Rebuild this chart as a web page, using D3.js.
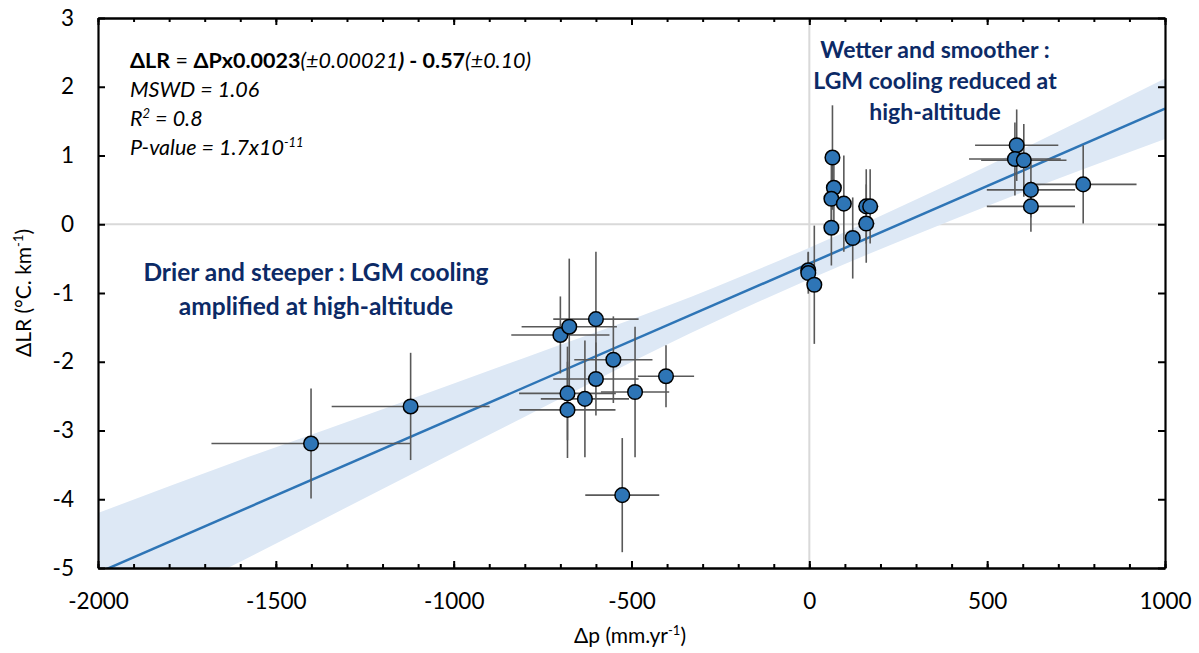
<!DOCTYPE html>
<html><head><meta charset="utf-8">
<script src="https://cdn.jsdelivr.net/npm/d3@7"></script>
<style>
body{margin:0;background:#fff}
svg{display:block}
text{font-family:Lato,"Open Sans",sans-serif}
</style>
</head><body>
<svg id="chart" width="1199" height="653"></svg>
<script>
// ---- data ----
const dp      = [-1401,-1121,-700,-675,-600,-551,-600,-680,-631,-680,-490,-403,-526,
                 -3,-3,14,65,69,62,97,62,122,160,171,160,
                 583,578,603,623,623,770];
const dlr     = [-3.19,-2.65,-1.61,-1.49,-1.38,-1.97,-2.25,-2.46,-2.54,-2.70,-2.44,-2.21,-3.94,
                 -0.67,-0.71,-0.88,0.97,0.53,0.37,0.30,-0.05,-0.20,0.26,0.26,0.01,
                 1.15,0.95,0.93,0.50,0.26,0.58];
const dpErr   = [280,222,138,134,120,110,120,136,124,135,96,79,104,
                 0,0,0,0,0,0,0,0,0,23,23,23,
                 117,129,120,124,124,150];
const dlrErr  = [0.80,0.78,0.56,0.99,0.98,0.63,0.53,0.68,0.85,0.70,0.95,0.45,0.83,
                 0.27,0.30,0.86,0.76,0.50,0.50,0.70,0.55,0.59,0.54,0.54,0.57,
                 0.52,0.53,0.53,0.40,0.37,0.57];
const fitX      = [-2000, 1000];
const fitY      = [-5.07, 1.68];
const bandX     = [-2000,-1600,-1200,-800,-400,0,400,1000];
const bandUpper = [-4.20,-3.43,-2.69,-1.94,-1.19,-0.34,0.60,2.12];
const bandLower = [-5.94,-4.91,-3.85,-2.80,-1.75,-0.80,0.06,1.24];
const xTicks      = [-2000,-1500,-1000,-500,0,500,1000];
const xMinorTicks = d3.range(-2000,1001,100);
const yTicks      = [-5,-4,-3,-2,-1,0,1,2,3];

// ---- layout ----
const L=98, R=1165, T=18, B=568;
const svg = d3.select("#chart");
const x = d3.scaleLinear().domain([-2000,1000]).range([L,R]);
const y = d3.scaleLinear().domain([-5,3]).range([B,T]);

svg.append("defs").append("clipPath").attr("id","clip")
  .append("rect").attr("x",L).attr("y",T).attr("width",R-L).attr("height",B-T);

// zero gridlines
svg.append("line").attr("x1",x(0)).attr("x2",x(0)).attr("y1",T).attr("y2",B)
  .attr("stroke","#d9d9d9").attr("stroke-width",2);
svg.append("line").attr("x1",L).attr("x2",R).attr("y1",y(0)).attr("y2",y(0))
  .attr("stroke","#d9d9d9").attr("stroke-width",2);

const plot = svg.append("g").attr("clip-path","url(#clip)");

// confidence band
const bandData = bandX.map((v,i)=>({x:v,u:bandUpper[i],l:bandLower[i]}));
plot.append("path").datum(bandData)
  .attr("fill","#dde8f5")
  .attr("d", d3.area().x(d=>x(d.x)).y0(d=>y(d.l)).y1(d=>y(d.u)).curve(d3.curveMonotoneX));

// regression line
plot.append("path").datum(fitX.map((v,i)=>[v,fitY[i]]))
  .attr("fill","none").attr("stroke","#2e75b6").attr("stroke-width",2.5)
  .attr("d", d3.line().x(d=>x(d[0])).y(d=>y(d[1])));

const pts = dp.map((v,i)=>({x:v,y:dlr[i],ex:dpErr[i],ey:dlrErr[i]}));

// error bars
const eb = svg.append("g").attr("stroke","#595959").attr("stroke-width",1.6);
eb.selectAll(".h").data(pts.filter(d=>d.ex>0)).join("line")
  .attr("x1",d=>x(d.x-d.ex)).attr("x2",d=>x(d.x+d.ex))
  .attr("y1",d=>y(d.y)).attr("y2",d=>y(d.y));
eb.selectAll(".v").data(pts).join("line")
  .attr("x1",d=>x(d.x)).attr("x2",d=>x(d.x))
  .attr("y1",d=>y(d.y-d.ey)).attr("y2",d=>y(d.y+d.ey));

// points
svg.append("g").selectAll("circle").data(pts).join("circle")
  .attr("cx",d=>x(d.x)).attr("cy",d=>y(d.y)).attr("r",7.3)
  .attr("fill","#2e75b6").attr("stroke","#000").attr("stroke-width",1.5);

// axes
function styleAxis(g){
  g.select(".domain").attr("stroke","#000").attr("stroke-width",2.2);
  g.selectAll(".tick line").attr("stroke","#000").attr("stroke-width",2);
  g.selectAll(".tick text").attr("fill","#000").style("font-size","22.5px")
   .style("font-family","Lato,'Open Sans',sans-serif");
}
const fmt = d=>String(d);
svg.append("g").attr("transform",`translate(0,${B})`)
  .call(d3.axisBottom(x).tickValues(xMinorTicks).tickSize(-4).tickFormat("").tickSizeOuter(0))
  .call(styleAxis);
svg.append("g").attr("transform",`translate(0,${B})`)
  .call(d3.axisBottom(x).tickValues(xTicks).tickSize(-7).tickPadding(25).tickFormat(fmt).tickSizeOuter(0))
  .call(styleAxis);
svg.append("g").attr("transform",`translate(0,${T})`)
  .call(d3.axisTop(x).tickValues(xMinorTicks).tickSize(-4).tickFormat("").tickSizeOuter(0))
  .call(styleAxis);
svg.append("g").attr("transform",`translate(0,${T})`)
  .call(d3.axisTop(x).tickValues(xTicks).tickSize(-7).tickFormat("").tickSizeOuter(0))
  .call(styleAxis);
svg.append("g").attr("transform",`translate(${L},0)`)
  .call(d3.axisLeft(y).tickValues(yTicks).tickSize(-7).tickPadding(24).tickFormat(fmt).tickSizeOuter(0))
  .call(styleAxis);
svg.append("g").attr("transform",`translate(${R},0)`)
  .call(d3.axisRight(y).tickValues(yTicks).tickSize(-7).tickFormat("").tickSizeOuter(0))
  .call(styleAxis);

// axis titles
const xt = svg.append("text").attr("x",630).attr("y",643).attr("text-anchor","middle")
  .style("font-size","21px").attr("fill","#000");
xt.append("tspan").text("Δp (mm.yr");
xt.append("tspan").text("-1").attr("baseline-shift","super").style("font-size","13px");
xt.append("tspan").text(")");

const yt = svg.append("text").attr("transform",`translate(31,${(T+B)/2}) rotate(-90)`)
  .attr("text-anchor","middle").style("font-size","21px").attr("fill","#000");
yt.append("tspan").text("ΔLR (°C. km");
yt.append("tspan").text("-1").attr("baseline-shift","super").style("font-size","13px");
yt.append("tspan").text(")");

// statistics text
const sx = 130, fs = "21.5px";
const eq = svg.append("text").attr("x",sx).attr("y",68).style("font-size",fs).attr("fill","#000");
eq.append("tspan").text("ΔLR").style("font-weight","bold");
eq.append("tspan").text(" = ");
eq.append("tspan").text("ΔPx0.0023").style("font-weight","bold");
eq.append("tspan").text("(±0.00021").style("font-style","italic");
eq.append("tspan").text(")").style("font-style","italic").style("font-weight","bold");
eq.append("tspan").text(" - 0.57").style("font-weight","bold");
eq.append("tspan").text("(±0.10)").style("font-style","italic");

svg.append("text").attr("x",sx).attr("y",97).style("font-size",fs).style("font-style","italic")
  .text("MSWD = 1.06");
const r2 = svg.append("text").attr("x",sx).attr("y",126).style("font-size",fs).style("font-style","italic");
r2.append("tspan").text("R");
r2.append("tspan").text("2").attr("baseline-shift","super").style("font-size","13px");
r2.append("tspan").text(" = 0.8");
const pv = svg.append("text").attr("x",sx).attr("y",155).style("font-size",fs).style("font-style","italic");
pv.append("tspan").text("P-value = 1.7x10");
pv.append("tspan").text("-11").attr("baseline-shift","super").style("font-size","13px");

// annotations
const navy = "#0c2a66";
const wet = ["Wetter and smoother :","LGM cooling reduced at","high-altitude"];
svg.append("g").selectAll("text").data(wet).join("text")
  .attr("x",935).attr("y",(d,i)=>58+i*31).attr("text-anchor","middle")
  .style("font-size","23px").style("font-weight","bold").attr("fill",navy).text(d=>d);
const dry = ["Drier and steeper : LGM cooling","amplified at high-altitude"];
svg.append("g").selectAll("text").data(dry).join("text")
  .attr("x",316).attr("y",(d,i)=>281+i*34).attr("text-anchor","middle")
  .style("font-size","24.5px").style("font-weight","bold").attr("fill",navy).text(d=>d);
</script>
</body></html>
